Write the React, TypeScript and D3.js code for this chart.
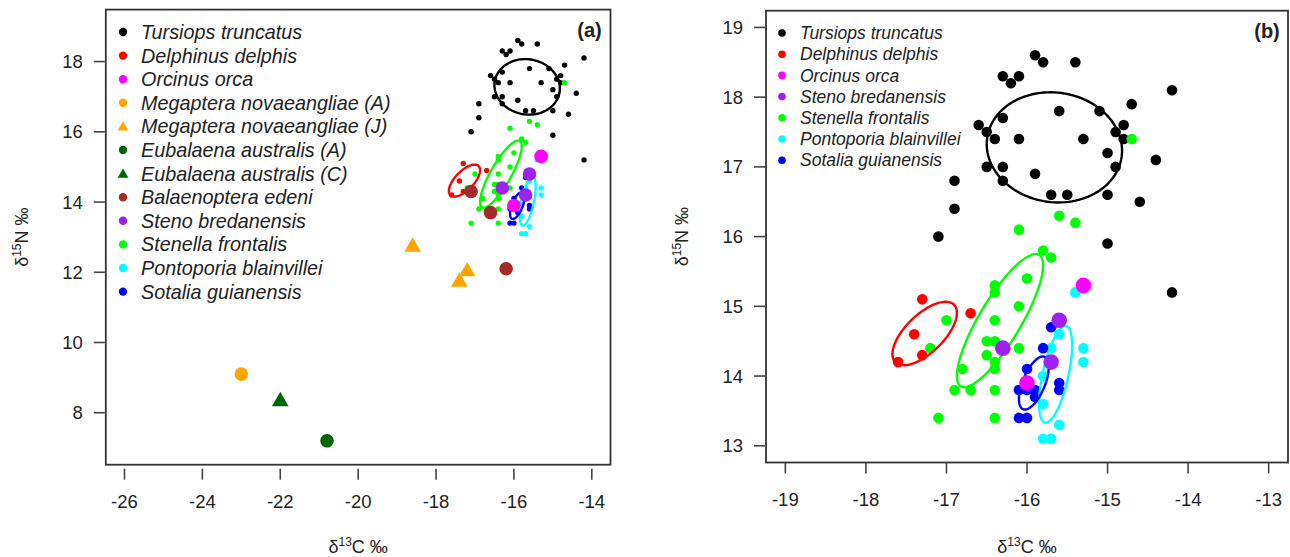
import * as d3 from 'd3';

// species values (δ13C, δ15N)
const tursiops = [
  [-15.9, 18.6], [-15.8, 18.5], [-15.4, 18.5], [-16.3, 18.3], [-16.1, 18.3], [-16.2, 18.2],
  [-14.2, 18.1], [-14.7, 17.9], [-15.6, 17.8], [-15.1, 17.8], [-16.3, 17.7], [-16.6, 17.6],
  [-14.8, 17.6], [-16.5, 17.5], [-14.9, 17.5], [-16.4, 17.4], [-16.1, 17.4], [-15.3, 17.4],
  [-14.8, 17.4], [-15.0, 17.2], [-14.4, 17.1], [-16.5, 17.0], [-16.3, 17.0], [-14.9, 17.0],
  [-15.9, 16.9], [-16.3, 16.8], [-16.9, 16.8], [-15.7, 16.6], [-15.5, 16.6], [-15.0, 16.6],
  [-14.6, 16.5], [-16.9, 16.4], [-17.1, 16.0], [-15.0, 15.9], [-14.2, 15.2],
];
const delphinus = [[-17.3, 15.1], [-16.7, 14.9], [-17.4, 14.6], [-17.3, 14.3], [-17.6, 14.2]];
const orcinus = [[-15.3, 15.3], [-16.0, 13.9]];
const megapteraA = [[-23.0, 9.1]];
const megapteraJ = [[-18.6, 12.75], [-17.2, 12.05], [-17.4, 11.75]];
const eubalaenaA = [[-20.8, 7.2]];
const eubalaenaC = [[-22.0, 8.35]];
const balaenoptera = [[-17.1, 14.3], [-16.6, 13.7], [-16.2, 12.1]];
const steno = [[-15.6, 14.8], [-16.3, 14.4], [-15.7, 14.2]];
const stenella = [
  [-15.6, 16.3], [-15.4, 16.2], [-16.1, 16.1], [-15.8, 15.8], [-15.7, 15.7], [-16.0, 15.4],
  [-16.4, 15.3], [-16.4, 15.2], [-16.1, 15.0], [-17.0, 14.8], [-16.4, 14.8], [-16.5, 14.5],
  [-16.4, 14.5], [-17.2, 14.4], [-16.1, 14.4], [-16.5, 14.3], [-16.4, 14.2], [-16.4, 14.1],
  [-16.8, 14.1], [-16.9, 13.8], [-16.7, 13.8], [-16.4, 13.8], [-17.1, 13.4], [-16.4, 13.4],
  [-14.7, 17.4],
];
const pontoporia = [
  [-15.4, 15.2], [-15.6, 14.6], [-15.7, 14.4], [-15.3, 14.4], [-15.3, 14.2], [-15.8, 14.0],
  [-15.8, 13.6], [-15.6, 13.3], [-15.8, 13.1], [-15.7, 13.1],
];
const sotalia = [
  [-15.7, 14.7], [-15.8, 14.4], [-16.0, 14.1], [-16.1, 13.8], [-16.0, 13.8], [-15.9, 13.8],
  [-15.9, 13.7], [-15.6, 13.9], [-15.6, 13.8], [-16.1, 13.4], [-16.0, 13.4],
];

// standard ellipses: [cx, cy, sdX, sdY, rho]
const ellipseTursiops = [-15.66, 17.28, 0.84, 0.79, -0.06];
const ellipseDelphinus = [-17.27, 14.61, 0.4, 0.455, 0.65];
const ellipseStenella = [-16.335, 14.795, 0.535, 0.955, 0.83];
const ellipsePontoporia = [-15.645, 14.025, 0.205, 0.695, 0.6];
const ellipseSotalia = [-15.915, 13.9, 0.185, 0.38, 0.6];

const speciesA = [
  'Tursiops truncatus', 'Delphinus delphis', 'Orcinus orca', 'Megaptera novaeangliae (A)',
  'Megaptera novaeangliae (J)', 'Eubalaena australis (A)', 'Eubalaena australis (C)',
  'Balaenoptera edeni', 'Steno bredanensis', 'Stenella frontalis', 'Pontoporia blainvillei',
  'Sotalia guianensis',
];
const speciesB = [
  'Tursiops truncatus', 'Delphinus delphis', 'Orcinus orca', 'Steno bredanensis',
  'Stenella frontalis', 'Pontoporia blainvillei', 'Sotalia guianensis',
];

const xTicksA = [-26, -24, -22, -20, -18, -16, -14];
const yTicksA = [8, 10, 12, 14, 16, 18];
const xTicksB = [-19, -18, -17, -16, -15, -14, -13];
const yTicksB = [13, 14, 15, 16, 17, 18, 19];

const pointsBySpecies: Record<string, number[][]> = {
  'Tursiops truncatus': tursiops,
  'Delphinus delphis': delphinus,
  'Orcinus orca': orcinus,
  'Megaptera novaeangliae (A)': megapteraA,
  'Megaptera novaeangliae (J)': megapteraJ,
  'Eubalaena australis (A)': eubalaenaA,
  'Eubalaena australis (C)': eubalaenaC,
  'Balaenoptera edeni': balaenoptera,
  'Steno bredanensis': steno,
  'Stenella frontalis': stenella,
  'Pontoporia blainvillei': pontoporia,
  'Sotalia guianensis': sotalia,
};
const ellipseBySpecies: Record<string, number[]> = {
  'Tursiops truncatus': ellipseTursiops,
  'Delphinus delphis': ellipseDelphinus,
  'Stenella frontalis': ellipseStenella,
  'Pontoporia blainvillei': ellipsePontoporia,
  'Sotalia guianensis': ellipseSotalia,
};

const colors: Record<string, string> = {
  'Tursiops truncatus': '#000000',
  'Delphinus delphis': '#ff0000',
  'Orcinus orca': '#ff00ff',
  'Megaptera novaeangliae (A)': '#ffa500',
  'Megaptera novaeangliae (J)': '#ffa500',
  'Eubalaena australis (A)': '#006400',
  'Eubalaena australis (C)': '#006400',
  'Balaenoptera edeni': '#a52a2a',
  'Steno bredanensis': '#a020f0',
  'Stenella frontalis': '#00ff00',
  'Pontoporia blainvillei': '#00ffff',
  'Sotalia guianensis': '#0000ff',
};
const triangles = ['Megaptera novaeangliae (J)', 'Eubalaena australis (C)'];
const bigA = ['Orcinus orca', 'Megaptera novaeangliae (A)', 'Megaptera novaeangliae (J)',
  'Eubalaena australis (A)', 'Eubalaena australis (C)', 'Balaenoptera edeni', 'Steno bredanensis'];
const bigB = ['Orcinus orca', 'Steno bredanensis'];

const FONT = '"Liberation Sans", Arial, sans-serif';

type PanelProps = {
  label: string;
  species: string[];
  big: string[];
  left: number; right: number; top: number; bottom: number;
  xDomain: [number, number]; yDomain: [number, number];
  xTicks: number[]; yTicks: number[];
  xTickGap: number;
  smallR: number; bigR: number; triSize: number;
  legend: { x: number; y: number; step: number; font: number; r: number; tri: number };
  yTitleX: number;
};

const ellipsePath = (e: number[], x: d3.ScaleLinear<number, number>, y: d3.ScaleLinear<number, number>) => {
  const [cx, cy, sx, sy, rho] = e;
  const pts = d3.range(0, 120).map((i) => {
    const t = (i / 120) * Math.PI * 2;
    return [cx + sx * Math.cos(t), cy + sy * (rho * Math.cos(t) + Math.sqrt(1 - rho * rho) * Math.sin(t))];
  });
  return d3.line<number[]>().x((d) => x(d[0])).y((d) => y(d[1])).curve(d3.curveLinearClosed)(pts) || '';
};

const Panel = (p: PanelProps) => {
  const x = d3.scaleLinear().domain(p.xDomain).range([p.left, p.right]);
  const y = d3.scaleLinear().domain(p.yDomain).range([p.bottom, p.top]);
  const tri = (s: number) => d3.symbol(d3.symbolTriangle, s)() || '';

  const marker = (sp: string, cx: number, cy: number, r: number, ts: number, key: string) =>
    triangles.includes(sp)
      ? <path key={key} d={tri(ts)} transform={`translate(${cx},${cy + 1})`} fill={colors[sp]} />
      : <circle key={key} cx={cx} cy={cy} r={r} fill={colors[sp]} />;

  const small = p.species.filter((s) => !p.big.includes(s));
  const big = p.species.filter((s) => p.big.includes(s));
  const tickBottom = p.bottom + p.xTickGap;

  return (
    <g fontFamily={FONT}>
      {/* small points */}
      {small.map((sp) => pointsBySpecies[sp].map((d, i) =>
        marker(sp, x(d[0]), y(d[1]), p.smallR, p.triSize, `${sp}-${i}`)))}
      {/* ellipses */}
      {p.species.filter((sp) => ellipseBySpecies[sp]).map((sp) => (
        <path key={`e-${sp}`} d={ellipsePath(ellipseBySpecies[sp], x, y)} fill="none"
          stroke={colors[sp]} strokeWidth={2.4} />
      ))}
      {/* big points */}
      {big.map((sp) => pointsBySpecies[sp].map((d, i) =>
        marker(sp, x(d[0]), y(d[1]), p.bigR, p.triSize, `${sp}-b${i}`)))}

      {/* box */}
      <rect x={p.left} y={p.top} width={p.right - p.left} height={p.bottom - p.top}
        fill="none" stroke="#333" strokeWidth={1.8} />

      {/* x axis */}
      {p.xTicks.map((t) => (
        <g key={`x${t}`}>
          <line x1={x(t)} x2={x(t)} y1={tickBottom} y2={tickBottom + 11} stroke="#444" strokeWidth={1.6} />
          <text x={x(t)} y={p.bottom + 43} textAnchor="middle" fontSize={18.5} fill="#222">{t}</text>
        </g>
      ))}
      {/* y axis */}
      {p.yTicks.map((t) => (
        <g key={`y${t}`}>
          <line x1={p.left - 12} x2={p.left - 1} y1={y(t)} y2={y(t)} stroke="#444" strokeWidth={1.6} />
          <text x={p.left - 23} y={y(t)} dy="0.35em" textAnchor="end" fontSize={18.5} fill="#222">{t}</text>
        </g>
      ))}

      {/* axis titles */}
      <text x={(p.left + p.right) / 2} y={553} textAnchor="middle" fontSize={18} fill="#222">
        δ<tspan fontSize={12} dy={-7}>13</tspan><tspan dy={7}>C ‰</tspan>
      </text>
      <text transform={`translate(${p.yTitleX},${(p.top + p.bottom) / 2}) rotate(-90)`} textAnchor="middle"
        fontSize={18} fill="#222">
        δ<tspan fontSize={12} dy={-7}>15</tspan><tspan dy={7}>N ‰</tspan>
      </text>

      {/* panel label */}
      <text x={p.right - 21} y={p.top + 27} textAnchor="middle" fontSize={20} fontWeight="bold" fill="#222">
        {p.label}
      </text>

      {/* legend */}
      {p.species.map((sp, i) => {
        const ly = p.legend.y + i * p.legend.step;
        return (
          <g key={`l-${sp}`}>
            {marker(sp, p.legend.x, ly, p.legend.r, p.legend.tri, `lm-${sp}`)}
            <text x={p.legend.x + 18} y={ly} dy="0.35em" fontSize={p.legend.font} fontStyle="italic" fill="#222">
              {sp}
            </text>
          </g>
        );
      })}
    </g>
  );
};

export default function App() {
  return (
    <svg width={1290} height={557} style={{ position: 'absolute', left: 0, top: 0, background: '#fff' }}>
      <Panel
        label="(a)" species={speciesA} big={bigA}
        left={105.8} right={610.5} top={9.6} bottom={464.7}
        xDomain={[-26.48, -13.52]} yDomain={[6.52, 19.48]}
        xTicks={xTicksA} yTicks={yTicksA} xTickGap={4}
        smallR={2.7} bigR={6.8} triSize={120}
        legend={{ x: 123, y: 32, step: 23.6, font: 19.8, r: 4.2, tri: 50 }}
        yTitleX={28}
      />
      <Panel
        label="(b)" species={speciesB} big={bigB}
        left={766} right={1288} top={10.7} bottom={462.5}
        xDomain={[-19.24, -12.76]} yDomain={[12.76, 19.24]}
        xTicks={xTicksB} yTicks={yTicksB} xTickGap={0}
        smallR={5.3} bigR={7.8} triSize={120}
        legend={{ x: 782, y: 33, step: 21.2, font: 17.5, r: 3.8, tri: 40 }}
        yTitleX={688}
      />
    </svg>
  );
}
